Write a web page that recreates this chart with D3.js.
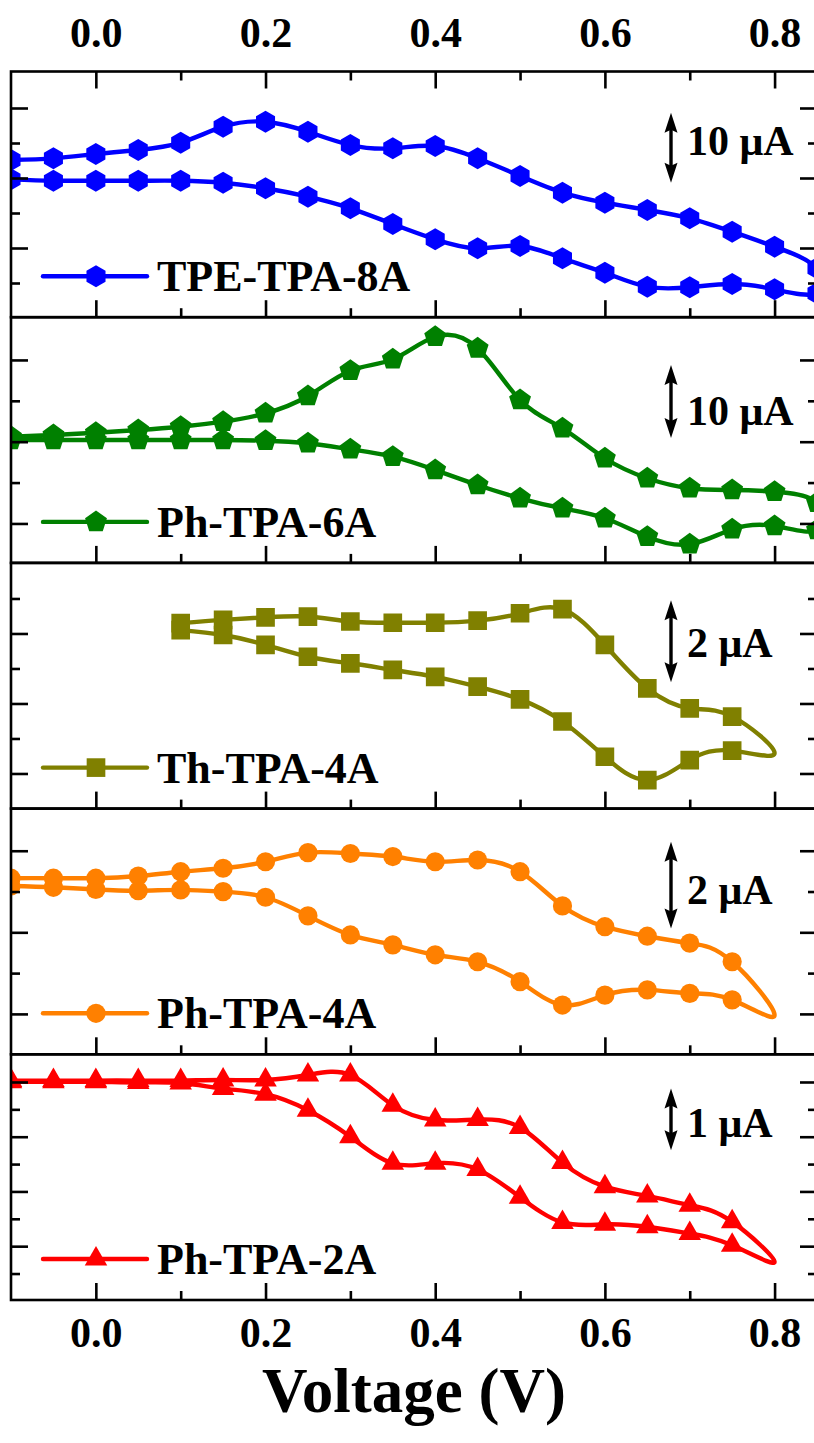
<!DOCTYPE html>
<html>
<head>
<meta charset="utf-8">
<script src="https://cdn.jsdelivr.net/npm/d3@7"></script>
<style>
  html, body { margin: 0; padding: 0; background: #ffffff; }
  svg { display: block; }
</style>
</head>
<body>
<svg id="chart" width="814" height="1443"></svg>
<script>
// ---------- data (voltage in V, current in μA) ----------
const sampleNames = ["TPE-TPA-8A", "Ph-TPA-6A", "Th-TPA-4A", "Ph-TPA-4A", "Ph-TPA-2A"];

const xTickValues = [0.0, 0.2, 0.4, 0.6, 0.8];
const xTickLabels = ["0.0", "0.2", "0.4", "0.6", "0.8"];
const xMinorTickValues = [0.1, 0.3, 0.5, 0.7];

const voltsWide = [-0.1, -0.05, 0.0, 0.05, 0.1, 0.15, 0.2, 0.25, 0.3, 0.35,
                   0.4, 0.45, 0.5, 0.55, 0.6, 0.65, 0.7, 0.75, 0.8, 0.85];
const voltsToTurn = [-0.1, -0.05, 0.0, 0.05, 0.1, 0.15, 0.2, 0.25, 0.3, 0.35,
                     0.4, 0.45, 0.5, 0.55, 0.6, 0.65, 0.7, 0.75];
const voltsThio = [0.1, 0.15, 0.2, 0.25, 0.3, 0.35, 0.4, 0.45, 0.5, 0.55,
                   0.6, 0.65, 0.7, 0.75];
const turnVolt = 0.8;

// TPE-TPA-8A
const tpe8aUpper = [12.57, 12.81, 13.43, 14.00, 15.04, 17.33, 18.04, 16.61, 14.71, 14.24,
                    14.57, 12.81, 10.29, 7.90, 6.47, 5.43, 4.24, 2.33, 0.19, -2.90];
const tpe8aLower = [9.81, 9.61, 9.61, 9.61, 9.61, 9.33, 8.53, 7.33, 5.67, 3.43,
                    1.24, -0.04, 0.29, -1.47, -3.53, -5.53, -5.61, -5.14, -5.90, -6.47];

// Ph-TPA-6A
const ph6aUpper = [0.68, 0.92, 1.23, 1.60, 2.05, 2.74, 3.89, 6.26, 9.73, 11.29,
                   14.38, 12.79, 5.71, 1.84, -2.27, -5.01, -6.38, -6.62, -6.85, -8.36];
const ph6aLower = [0.23, 0.23, 0.23, 0.23, 0.23, 0.23, 0.14, -0.22, -1.04, -2.05,
                   -3.88, -5.93, -7.75, -9.12, -10.49, -13.01, -14.05, -12.00, -11.55, -12.10];

// Th-TPA-4A
const th4aUpper = [1.96, 2.04, 2.10, 2.12, 2.00, 1.97, 1.97, 2.02, 2.20, 2.30,
                   1.43, 0.37, -0.12, -0.32];
const th4aTurn = -1.21;
const th4aLower = [1.79, 1.67, 1.43, 1.14, 0.98, 0.82, 0.65, 0.41, 0.10, -0.44,
                   -1.30, -1.87, -1.38, -1.15];

// Ph-TPA-4A
const ph4aUpper = [1.25, 1.25, 1.25, 1.30, 1.40, 1.48, 1.63, 1.84, 1.82, 1.75,
                   1.63, 1.67, 1.40, 0.61, 0.13, -0.09, -0.25, -0.68];
const ph4aTurn = -1.91;
const ph4aLower = [1.07, 1.04, 0.99, 0.96, 0.98, 0.94, 0.81, 0.38, -0.06, -0.29,
                   -0.52, -0.68, -1.14, -1.68, -1.45, -1.33, -1.41, -1.56];

// Ph-TPA-2A
const ph2aUpper = [0.91, 0.91, 0.91, 0.91, 0.91, 0.92, 0.92, 1.00, 1.00, 0.51,
                   0.27, 0.28, 0.15, -0.42, -0.81, -0.96, -1.11, -1.38];
const ph2aTurn = -2.03;
const ph2aLower = [0.89, 0.89, 0.89, 0.88, 0.87, 0.78, 0.69, 0.43, 0.00, -0.43,
                   -0.43, -0.53, -0.98, -1.39, -1.42, -1.46, -1.57, -1.76];

// current scale bars: size (μA), label, upper end (μA)
const scaleBarSizes = [10, 10, 2, 2, 1];
const scaleBarLabels = ["10 μA", "10 μA", "2 μA", "2 μA", "1 μA"];
const scaleBarTops = [19.33, 10.5, 2.52, 2.09, 0.78];

// current axis extent and tick spacing for each panel (μA)
const yDomains = [[-9.886, 25.214], [-16.603, 17.055], [-2.564, 3.429], [-2.817, 2.857], [-2.647, 1.336]];
const yTickSteps = [5, 5.6, 0.8537, 0.942, 0.4436];

// ---------- layout / style ----------
const FONT = "'Liberation Serif','Times New Roman',Times,serif";
const W = 814, H = 1443;
const PLOT_LEFT = 11, PLOT_RIGHT = 817;
const PLOT_TOP = 71.5, PANEL_H = 245.7;
const FRAME_W = 2.6, LINE_W = 4.4;
const MAJOR_LEN = 17, MINOR_LEN = 9;
const colors = ["#0000ff", "#008000", "#808000", "#ff8000", "#ff0000"];
const markerKinds = ["hexagon", "pentagon", "square", "circle", "triangle"];
const scaleLabelBaselines = [155, 425, 657, 904, 1137];
const ARROW_X = 671, SCALE_LABEL_X = 687;

const svg = d3.select("#chart");
svg.append("rect").attr("width", W).attr("height", H).attr("fill", "#fff");

const x = d3.scaleLinear().domain([-0.1, 0.85]).range([PLOT_LEFT, PLOT_RIGHT]);

function polygonPath(n, r, startDeg) {
  const pts = d3.range(n).map(k => {
    const a = (startDeg + 360 * k / n) * Math.PI / 180;
    return [r * Math.cos(a), r * Math.sin(a)];
  });
  return "M" + pts.map(p => p[0].toFixed(2) + "," + p[1].toFixed(2)).join("L") + "Z";
}
const markerPaths = {
  hexagon: polygonPath(6, 11, -90),
  pentagon: polygonPath(5, 11.5, -90),
  square: polygonPath(4, 13.2, 45),
  circle: d3.symbol(d3.symbolCircle, Math.PI * 9.6 * 9.6)(),
  triangle: polygonPath(3, 13, -90)
};

// each panel: scan out along the upper branch, back along the lower branch
const panels = [
  { volts: voltsWide, upper: tpe8aUpper, lower: tpe8aLower, turn: null },
  { volts: voltsWide, upper: ph6aUpper, lower: ph6aLower, turn: null },
  { volts: voltsThio, upper: th4aUpper, lower: th4aLower, turn: th4aTurn },
  { volts: voltsToTurn, upper: ph4aUpper, lower: ph4aLower, turn: ph4aTurn },
  { volts: voltsToTurn, upper: ph2aUpper, lower: ph2aLower, turn: ph2aTurn }
];

const defs = svg.append("defs");

panels.forEach((p, i) => {
  const top = PLOT_TOP + i * PANEL_H;
  const bottom = top + PANEL_H;
  const y = d3.scaleLinear().domain(yDomains[i]).range([bottom, top]);
  const g = svg.append("g").attr("class", "panel");

  defs.append("clipPath").attr("id", "clip" + i)
    .append("rect")
    .attr("x", PLOT_LEFT).attr("y", top)
    .attr("width", PLOT_RIGHT - PLOT_LEFT).attr("height", PANEL_H);

  // curve
  const upperPts = p.upper.map((v, k) => [p.volts[k], v]);
  const lowerPts = p.lower.map((v, k) => [p.volts[k], v]);
  let loop = upperPts.slice();
  if (p.turn !== null) loop.push([turnVolt, p.turn]);
  loop = loop.concat(lowerPts.slice().reverse());

  const line = d3.line().x(d => x(d[0])).y(d => y(d[1])).curve(d3.curveNatural);
  const plot = g.append("g").attr("clip-path", "url(#clip" + i + ")");
  plot.append("path").datum(loop)
    .attr("d", line)
    .attr("fill", "none")
    .attr("stroke", colors[i])
    .attr("stroke-width", LINE_W)
    .attr("stroke-linejoin", "round");

  plot.selectAll("path.mk")
    .data(upperPts.concat(lowerPts))
    .join("path")
    .attr("class", "mk")
    .attr("d", markerPaths[markerKinds[i]])
    .attr("transform", d => `translate(${x(d[0])},${y(d[1])})`)
    .attr("fill", colors[i]);

  // ticks: current axis (left/right), voltage axis (bottom, inward)
  const step = yTickSteps[i];
  const kMin = Math.ceil(yDomains[i][0] / step), kMax = Math.floor(yDomains[i][1] / step);
  const yMajor = [], yMinor = [];
  for (let k = kMin; k <= kMax; k++) {
    const yy = y(k * step);
    if (yy < top + 6 || yy > bottom - 6) continue;
    (k % 2 === 0 ? yMajor : yMinor).push(k * step);
  }
  const tickStyle = sel => {
    sel.select(".domain").remove();
    sel.selectAll("line").attr("stroke", "#000").attr("stroke-width", FRAME_W);
    sel.selectAll("text").remove();
  };
  [[yMajor, MAJOR_LEN], [yMinor, MINOR_LEN]].forEach(([vals, len]) => {
    g.append("g").attr("transform", `translate(${PLOT_LEFT},0)`)
      .call(d3.axisRight(y).tickValues(vals).tickSize(len).tickFormat(""))
      .call(tickStyle);
    g.append("g").attr("transform", `translate(${PLOT_RIGHT},0)`)
      .call(d3.axisLeft(y).tickValues(vals).tickSize(len).tickFormat(""))
      .call(tickStyle);
  });
  [[xTickValues, MAJOR_LEN], [xMinorTickValues, MINOR_LEN]].forEach(([vals, len]) => {
    g.append("g").attr("transform", `translate(0,${bottom})`)
      .call(d3.axisTop(x).tickValues(vals).tickSize(len).tickFormat(""))
      .call(tickStyle);
    if (i === 0) {
      g.append("g").attr("transform", `translate(0,${top})`)
        .call(d3.axisBottom(x).tickValues(vals).tickSize(len).tickFormat(""))
        .call(tickStyle);
    }
  });

  // frame
  g.append("rect")
    .attr("x", PLOT_LEFT).attr("y", top)
    .attr("width", PLOT_RIGHT - PLOT_LEFT).attr("height", PANEL_H)
    .attr("fill", "none").attr("stroke", "#000").attr("stroke-width", FRAME_W);

  // legend
  const ly = bottom - 41;
  const leg = g.append("g");
  leg.append("line")
    .attr("x1", 43).attr("x2", 147).attr("y1", ly).attr("y2", ly)
    .attr("stroke", colors[i]).attr("stroke-width", LINE_W).attr("stroke-linecap", "round");
  leg.append("path")
    .attr("d", markerPaths[markerKinds[i]])
    .attr("transform", `translate(96,${ly})`)
    .attr("fill", colors[i]);
  leg.append("text")
    .attr("x", 157).attr("y", ly + 15)
    .attr("font-family", FONT).attr("font-weight", "bold").attr("font-size", 44)
    .attr("fill", "#000")
    .text(sampleNames[i]);

  // current scale bar
  const yA = y(scaleBarTops[i]);
  const yB = y(scaleBarTops[i] - scaleBarSizes[i]);
  const sb = g.append("g");
  sb.append("line")
    .attr("x1", ARROW_X).attr("x2", ARROW_X).attr("y1", yA + 8).attr("y2", yB - 8)
    .attr("stroke", "#000").attr("stroke-width", 3.4);
  const headLen = 20, headHalf = 6.5;
  sb.append("path")
    .attr("d", `M${ARROW_X},${yA} L${ARROW_X + headHalf},${yA + headLen} L${ARROW_X},${yA + headLen - 3} L${ARROW_X - headHalf},${yA + headLen} Z`)
    .attr("fill", "#000");
  sb.append("path")
    .attr("d", `M${ARROW_X},${yB} L${ARROW_X + headHalf},${yB - headLen} L${ARROW_X},${yB - headLen + 3} L${ARROW_X - headHalf},${yB - headLen} Z`)
    .attr("fill", "#000");
  sb.append("text")
    .attr("x", SCALE_LABEL_X).attr("y", scaleLabelBaselines[i])
    .attr("font-family", FONT).attr("font-weight", "bold").attr("font-size", 42)
    .attr("fill", "#000")
    .text(scaleBarLabels[i]);
});

// voltage tick labels, top and bottom
const plotBottom = PLOT_TOP + 5 * PANEL_H;
const labelStyle = sel => {
  sel.select(".domain").remove();
  sel.selectAll("line").remove();
  sel.selectAll("text")
    .attr("font-family", FONT).attr("font-weight", "bold").attr("font-size", 42)
    .attr("fill", "#000").attr("dy", null);
};
svg.append("g").attr("transform", `translate(0,${PLOT_TOP})`)
  .call(d3.axisTop(x).tickValues(xTickValues).tickSize(0).tickPadding(25)
        .tickFormat((d, k) => xTickLabels[k]))
  .call(labelStyle);
svg.append("g").attr("transform", `translate(0,${plotBottom})`)
  .call(d3.axisBottom(x).tickValues(xTickValues).tickSize(0).tickPadding(47)
        .tickFormat((d, k) => xTickLabels[k]))
  .call(labelStyle);

// axis title
svg.append("text")
  .attr("x", (PLOT_LEFT + PLOT_RIGHT) / 2).attr("y", 1412)
  .attr("text-anchor", "middle")
  .attr("font-family", FONT).attr("font-weight", "bold").attr("font-size", 63)
  .attr("fill", "#000")
  .text("Voltage (V)");
</script>
</body>
</html>
